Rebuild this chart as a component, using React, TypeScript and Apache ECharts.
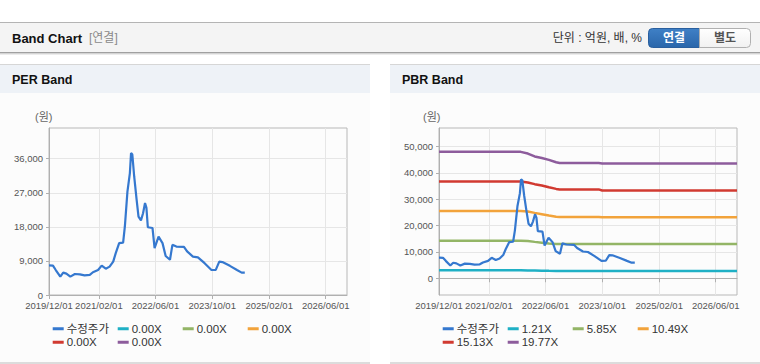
import React, { useEffect, useRef } from 'react';
import * as echarts from 'echarts';

// ---------- data ----------
const priceDates = [
  '2019-12-01', '2020-01-04', '2020-01-28', '2020-03-07', '2020-04-01', '2020-04-28',
  '2020-06-01', '2020-07-10', '2020-08-22', '2020-10-01', '2020-11-15', '2020-12-12',
  '2021-01-25', '2021-02-25', '2021-04-01', '2021-05-04', '2021-06-04', '2021-06-25',
  '2021-07-25', '2021-08-28', '2021-09-12', '2021-10-04', '2021-10-25', '2021-11-04',
  '2021-11-15', '2021-12-01', '2021-12-22', '2022-01-07', '2022-01-28', '2022-02-15',
  '2022-03-04', '2022-03-16', '2022-03-28', '2022-05-07', '2022-05-25', '2022-06-28',
  '2022-08-01', '2022-08-28', '2022-10-04', '2022-10-25', '2022-11-28', '2023-02-01',
  '2023-02-28', '2023-04-19', '2023-06-01', '2023-07-28', '2023-09-25', '2023-11-01',
  '2023-12-01', '2023-12-28', '2024-03-01', '2024-05-01', '2024-06-10', '2024-07-07',
];
const priceValues = [
  7800, 7750, 6600, 4850, 5900, 5650,
  4850, 5550, 5450, 5200, 5300, 6000,
  6600, 7750, 6950, 7500, 8800, 11000,
  13700, 13850, 18100, 27300, 32200, 37500,
  37100, 31300, 25100, 20700, 19700, 21600,
  24300, 23000, 17900, 17700, 12400, 15400,
  13700, 10300, 9300, 13250, 12800, 12700,
  11500, 10150, 9950, 8400, 6600, 6650,
  8800, 8700, 7700, 6600, 5900, 5900,
];

const bandDates = [
  '2019-12-01', '2021-11-01', '2022-01-01', '2022-03-01', '2022-05-01', '2022-07-01',
  '2022-09-01', '2022-10-01', '2023-09-01', '2023-10-01', '2026-12-01',
];
const pbrBand121 = [3050, 3050, 2950, 2900, 2850, 2820, 2800, 2800, 2800, 2780, 2780];
const pbrBand585 = [14250, 14250, 14100, 13800, 13500, 13200, 13000, 12980, 12980, 12950, 12950];
const pbrBand1049 = [25550, 25550, 25300, 24800, 24300, 23800, 23300, 23200, 23200, 23150, 23150];
const pbrBand1513 = [36700, 36700, 36300, 35700, 35200, 34500, 33900, 33700, 33700, 33300, 33300];
const pbrBand1977 = [47950, 47950, 47300, 46200, 45600, 44900, 44000, 43700, 43700, 43550, 43550];

const pbrBandNames = ['1.21X', '5.85X', '10.49X', '15.13X', '19.77X'];
const perBandNames = ['0.00X', '0.00X', '0.00X', '0.00X', '0.00X'];
const perBandValues: number[][] = [[], [], [], [], []];

const xLabelDates = ['2019-12-01', '2021-02-01', '2022-06-01', '2023-10-01', '2025-02-01', '2026-06-01'];
const perYTicks = [0, 9000, 18000, 27000, 36000];
const pbrYTicks = [0, 10000, 20000, 30000, 40000, 50000];

// ---------- styles ----------
const FONT = "'Liberation Sans', 'Noto Sans CJK KR', sans-serif";
const priceColor = '#3578cf';
const bandColors = ['#1fb0c5', '#93b566', '#f2a33b', '#d13a31', '#8d5c9c'];

export default function App() {
  const ref = useRef<HTMLDivElement>(null);

  useEffect(() => {
    if (!ref.current) return;
    const chart = echarts.init(ref.current, undefined, { renderer: 'svg' });

    const priceData = priceDates.map((d, i) => [d, priceValues[i]]);
    const pbrBands = [pbrBand121, pbrBand585, pbrBand1049, pbrBand1513, pbrBand1977];

    const gridLeft = [49, 439];

    const makeX = (gi: number) => ({
      type: 'time',
      gridIndex: gi,
      min: '2019-12-01',
      max: '2026-12-01',
      axisLine: { show: true, lineStyle: { color: '#b0b0b0' } },
      axisTick: { show: true, customValues: xLabelDates, length: 4, lineStyle: { color: '#b0b0b0' } },
      axisLabel: {
        customValues: xLabelDates,
        formatter: '{yyyy}/{MM}/{dd}',
        color: '#555',
        fontSize: 9.5,
        fontFamily: FONT,
        margin: 6,
      },
      splitLine: { show: true, lineStyle: { color: '#e6e6e6' } },
    });

    const makeY = (gi: number, min: number, max: number, ticks: number[]) => ({
      type: 'value',
      gridIndex: gi,
      min,
      max,
      axisLine: { show: true, lineStyle: { color: '#b0b0b0' } },
      axisTick: { show: true, customValues: ticks, length: 3, lineStyle: { color: '#b0b0b0' } },
      axisLabel: {
        customValues: ticks,
        formatter: (v: number) => v.toLocaleString('en-US'),
        color: '#555',
        fontSize: 9.5,
        fontFamily: FONT,
        margin: 6,
      },
      splitLine: { show: true, lineStyle: { color: '#e6e6e6' } },
    });

    const series: any[] = [];
    series.push({
      name: '수정주가', type: 'line', xAxisIndex: 0, yAxisIndex: 0, data: priceData,
      showSymbol: false, symbol: 'none', z: 5,
      lineStyle: { color: priceColor, width: 2.2 }, itemStyle: { color: priceColor },
    });
    perBandNames.forEach((n, i) => {
      series.push({
        name: 'PER' + i, type: 'line', xAxisIndex: 0, yAxisIndex: 0,
        data: perBandValues[i].map((v, j) => [bandDates[j], v]),
        showSymbol: false, symbol: 'none',
        lineStyle: { color: bandColors[i], width: 2.5 }, itemStyle: { color: bandColors[i] },
      });
    });
    series.push({
      name: '수정주가', type: 'line', xAxisIndex: 1, yAxisIndex: 1, data: priceData,
      showSymbol: false, symbol: 'none', z: 5,
      lineStyle: { color: priceColor, width: 2.2 }, itemStyle: { color: priceColor },
    });
    pbrBandNames.forEach((n, i) => {
      series.push({
        name: n, type: 'line', xAxisIndex: 1, yAxisIndex: 1,
        data: pbrBands[i].map((v, j) => [bandDates[j], v]),
        showSymbol: false, symbol: 'none',
        lineStyle: { color: bandColors[i], width: 2.5 }, itemStyle: { color: bandColors[i] },
      });
    });

    // legends: fixed 4-column layout
    const colX = [52.7, 117.7, 182.7, 247.7];
    const rowTop = [323, 336.5];
    const legendItems: { name: string; text: string; panel: number; idx: number }[] = [];
    legendItems.push({ name: '수정주가', text: '수정주가', panel: 0, idx: 0 });
    perBandNames.forEach((t, i) => legendItems.push({ name: 'PER' + i, text: t, panel: 0, idx: i + 1 }));
    legendItems.push({ name: '수정주가', text: '수정주가', panel: 1, idx: 0 });
    pbrBandNames.forEach((t, i) => legendItems.push({ name: t, text: t, panel: 1, idx: i + 1 }));

    const legends = legendItems.map((it) => ({
      data: [it.name],
      left: colX[it.idx % 4] + (it.panel === 1 ? 390 : 0),
      top: rowTop[Math.floor(it.idx / 4)],
      padding: 0,
      icon: 'rect',
      itemWidth: 11,
      itemHeight: 3,
      selectedMode: false,
      formatter: () => it.text,
      textStyle: { fontSize: 11.5, color: '#333', fontFamily: FONT, padding: [0, 0, 0, -2] },
    }));

    const graphic: any[] = [
      // header
      { type: 'rect', z: -10, shape: { x: 0, y: 22, width: 760, height: 1 }, style: { fill: '#b4b4b4' } },
      { type: 'rect', z: -10, shape: { x: 0, y: 23, width: 760, height: 29.5 }, style: { fill: '#f4f4f4' } },
      { type: 'rect', z: -10, shape: { x: 0, y: 52, width: 760, height: 1 }, style: { fill: '#a0a0a0' } },
      { type: 'rect', z: -10, shape: { x: 0, y: 53, width: 760, height: 1 }, style: { fill: '#d4d4d4' } },
      { type: 'rect', z: -10, shape: { x: 0, y: 54, width: 760, height: 1 }, style: { fill: '#ececec' } },
      { type: 'text', x: 12, y: 38, style: { text: 'Band Chart', fill: '#111', font: `bold 13px ${FONT}`, verticalAlign: 'middle' } },
      { type: 'text', x: 89, y: 38, style: { text: '[연결]', fill: '#8a8a8a', font: `12px ${FONT}`, verticalAlign: 'middle' } },
      { type: 'text', x: 642, y: 38, style: { text: '단위 : 억원, 배, %', fill: '#333', font: `12px ${FONT}`, align: 'right', verticalAlign: 'middle' } },
      {
        type: 'rect', shape: { x: 648.5, y: 28.5, width: 51, height: 19, r: [4, 0, 0, 4] },
        style: {
          fill: new echarts.graphic.LinearGradient(0, 0, 0, 1, [
            { offset: 0, color: '#3f80c6' }, { offset: 1, color: '#2a66aa' },
          ]),
          stroke: '#2a5f9e', lineWidth: 1,
        },
      },
      { type: 'text', x: 674, y: 38, style: { text: '연결', fill: '#fff', font: `bold 12px ${FONT}`, align: 'center', verticalAlign: 'middle' } },
      {
        type: 'rect', shape: { x: 699.5, y: 28.5, width: 51, height: 19, r: [0, 4, 4, 0] },
        style: {
          fill: new echarts.graphic.LinearGradient(0, 0, 0, 1, [
            { offset: 0, color: '#ffffff' }, { offset: 1, color: '#f1f1f1' },
          ]),
          stroke: '#b0b0b0', lineWidth: 1,
        },
      },
      { type: 'text', x: 725, y: 38, style: { text: '별도', fill: '#555', font: `bold 12px ${FONT}`, align: 'center', verticalAlign: 'middle' } },
    ];

    const panels = [
      { x: 0, title: 'PER Band', titleX: 12 },
      { x: 390, title: 'PBR Band', titleX: 402 },
    ];
    panels.forEach((p) => {
      graphic.push(
        { type: 'rect', z: -10, shape: { x: p.x, y: 64, width: 370, height: 1 }, style: { fill: '#d6d6d6' } },
        { type: 'rect', z: -10, shape: { x: p.x, y: 65, width: 370, height: 28 }, style: { fill: '#eef2f7' } },
        { type: 'rect', z: -10, shape: { x: p.x, y: 93, width: 370, height: 269 }, style: { fill: '#fcfcfc' } },
        { type: 'rect', z: -10, shape: { x: p.x, y: 362, width: 370, height: 2 }, style: { fill: '#dcdcdc' } },
        { type: 'text', x: p.titleX, y: 80, style: { text: p.title, fill: '#111', font: `bold 12.5px ${FONT}`, verticalAlign: 'middle' } },
      );
    });
    graphic.push(
      { type: 'text', x: 35, y: 117, style: { text: '(원)', fill: '#666', font: `11px ${FONT}`, verticalAlign: 'middle' } },
      { type: 'text', x: 423, y: 117, style: { text: '(원)', fill: '#666', font: `11px ${FONT}`, verticalAlign: 'middle' } },
    );

    chart.setOption({
      animation: false,
      textStyle: { fontFamily: FONT },
      graphic,
      grid: gridLeft.map((l) => ({
        left: l, top: 128, width: 298, height: 167,
        show: true, borderColor: '#b8b8b8', borderWidth: 1, backgroundColor: 'transparent',
      })),
      xAxis: [makeX(0), makeX(1)],
      yAxis: [makeY(0, 0, 44100, perYTicks), makeY(1, -6350, 57000, pbrYTicks)],
      legend: legends,
      series,
    });

    return () => chart.dispose();
  }, []);

  return <div ref={ref} style={{ position: 'absolute', left: 0, top: 0, width: 760, height: 364 }} />;
}
